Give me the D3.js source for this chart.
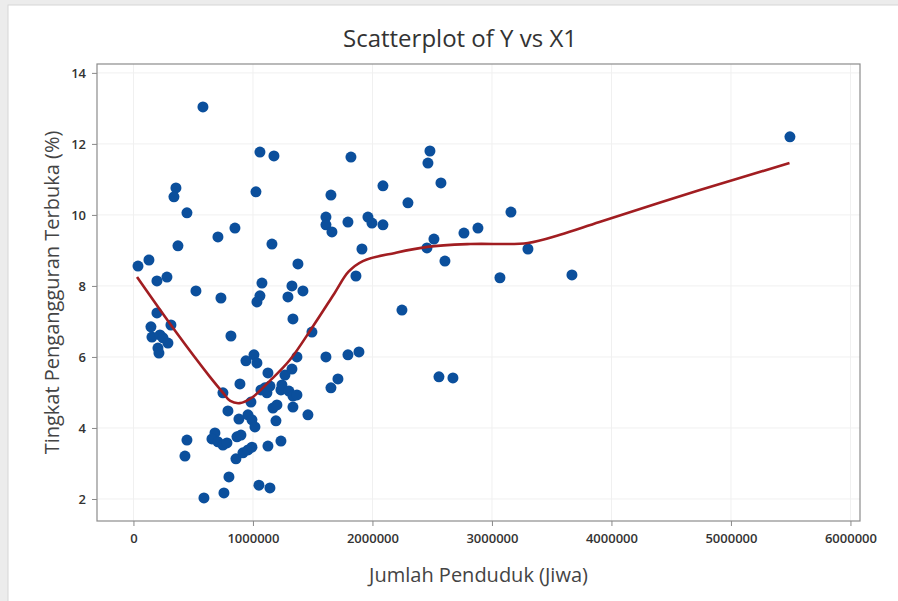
<!DOCTYPE html>
<html>
<head>
<meta charset="utf-8">
<script src="https://cdn.jsdelivr.net/npm/d3@7"></script>
<style>
  html,body{margin:0;padding:0;background:#fff;}
  text{font-family:"Open Sans","Noto Sans",sans-serif;}
</style>
</head>
<body>
<div id="chart"></div>
<script>
// population (X1) and open unemployment rate (Y)
const popX = [38000,129700,196650,280330,355640,338900,447700,372400,196650,146400,313800,154800,221800,246900,288700,205000,213400,523000,581600,707100,
  849400,732200,815900,447700,431000,590000,757300,799200,857700,682000,656900,707100,748900,782400,866100,899600,748900,790800,882800,891200,
  941400,1008400,1033500,958200,991600,1016700,983300,916300,958200,991600,1050200,1142300,1125500,1234300,1025100,1058600,1175700,1159000,1075300,1058600,
  1033500,1066900,1100400,1117100,1142300,1125500,1167400,1200800,1192500,1234300,1242700,1267800,1326400,1368200,1301200,1334700,1368200,1334700,1460200,1326400,
  1292900,1418400,1376600,1334700,1493700,1610900,1795000,1887000,1711300,1652700,1652700,1820100,1610900,1610900,1661100,1795000,1962300,1995800,2087900,2087900,
  1912100,1861900,2481200,2464400,2573200,2297100,2246900,3159000,2882800,2765700,2514600,2456100,2606700,3066900,3301300,3669500,2556500,2673600,5493700];
const rateY = [8.56,8.73,8.14,8.25,10.76,10.51,10.06,9.13,7.24,6.85,6.90,6.56,6.62,6.54,6.39,6.25,6.11,7.86,13.04,9.38,
  9.63,7.66,6.59,3.66,3.21,2.03,2.17,2.62,3.13,3.86,3.69,3.61,3.52,3.58,3.75,3.80,4.99,4.48,4.25,5.24,
  5.89,6.06,5.83,4.37,4.23,4.03,4.73,3.30,3.38,3.46,2.39,2.31,3.49,3.63,10.65,11.77,11.66,9.18,8.08,7.72,
  7.55,5.07,5.13,4.99,5.18,5.55,4.56,4.65,4.20,5.07,5.21,5.49,5.66,6.00,5.04,4.90,4.93,4.59,4.37,8.00,
  7.69,7.86,8.62,7.07,6.70,6.00,6.06,6.14,5.38,5.13,10.56,11.63,9.94,9.72,9.52,9.80,9.94,9.77,9.72,10.82,
  9.04,8.28,11.80,11.46,10.90,10.34,7.32,10.08,9.63,9.49,9.32,9.07,8.70,8.23,9.04,8.31,5.44,5.41,12.20];

// lowess smoother
const fitX = [30000,350000,640000,750000,810000,890000,990000,1140000,1310000,1500000,1680000,1800000,1920000,2190000,2460000,2820000,3300000,3570000,3900000,4740000,5490000];
const fitY = [8.25,6.73,5.44,4.99,4.76,4.70,4.85,5.32,5.92,6.85,7.78,8.40,8.70,8.93,9.10,9.18,9.21,9.44,9.80,10.70,11.46];

const xTicks = [0,1000000,2000000,3000000,4000000,5000000,6000000];
const yTicks = [2,4,6,8,10,12,14];

const W = 898, H = 601;
const M = {left:97, top:64, right:860, bottom:521};

const svg = d3.select("#chart").append("svg")
    .attr("width",W).attr("height",H);

// window frame
svg.append("rect").attr("width",W).attr("height",H).attr("fill","#ececec");
svg.append("rect").attr("x",8).attr("y",5).attr("width",W).attr("height",H)
    .attr("fill","#fff").attr("stroke","#d6d6d6");

const x = d3.scaleLinear().domain([-305000,6080000]).range([M.left,M.right]);
const y = d3.scaleLinear().domain([1.38,14.25]).range([M.bottom,M.top]);

// grid
const grid = svg.append("g").attr("stroke","#f0f0f0").attr("stroke-width",1);
grid.selectAll("line.gx").data(xTicks).join("line")
    .attr("x1",d=>x(d)).attr("x2",d=>x(d))
    .attr("y1",M.top).attr("y2",M.bottom);
grid.selectAll("line.gy").data(yTicks).join("line")
    .attr("x1",M.left).attr("x2",M.right)
    .attr("y1",d=>y(d)).attr("y2",d=>y(d));

// axes
const xAxis = svg.append("g").attr("transform",`translate(0,${M.bottom})`)
    .call(d3.axisBottom(x).tickValues(xTicks).tickFormat(d3.format("d")).tickSize(5).tickPadding(8));
const yAxis = svg.append("g").attr("transform",`translate(${M.left},0)`)
    .call(d3.axisLeft(y).tickValues(yTicks).tickSize(5).tickPadding(6));
[xAxis,yAxis].forEach(a=>{
  a.select(".domain").remove();
  a.selectAll(".tick line").attr("stroke","#888");
  a.selectAll(".tick text").attr("fill","#333").style("font-size","13px")
    .style("font-family","'Open Sans',sans-serif").style("font-weight","600");
});

// plot frame
svg.append("rect").attr("x",M.left).attr("y",M.top)
    .attr("width",M.right-M.left).attr("height",M.bottom-M.top)
    .attr("fill","none").attr("stroke","#8c8c8c").attr("stroke-width",1.2);

// points
svg.append("g").selectAll("circle")
    .data(popX.map((v,i)=>[v,rateY[i]]))
    .join("circle")
    .attr("cx",d=>x(d[0])).attr("cy",d=>y(d[1]))
    .attr("r",5.5)
    .attr("fill","#0b4f9c");

// fit line
const line = d3.line().x(d=>x(d[0])).y(d=>y(d[1])).curve(d3.curveCatmullRom.alpha(0.5));
svg.append("path")
    .datum(fitX.map((v,i)=>[v,fitY[i]]))
    .attr("fill","none")
    .attr("stroke","#a11d21")
    .attr("stroke-width",2.6)
    .attr("d",line);

// titles
svg.append("text").attr("x",460).attr("y",47)
    .attr("text-anchor","middle").attr("fill","#333")
    .style("font-size","24px").text("Scatterplot of Y vs X1");
svg.append("text").attr("x",(M.left+M.right)/2).attr("y",582)
    .attr("text-anchor","middle").attr("fill","#444")
    .style("font-size","20px").text("Jumlah Penduduk (Jiwa)");
svg.append("text")
    .attr("transform",`translate(59,${(M.top+M.bottom)/2}) rotate(-90)`)
    .attr("text-anchor","middle").attr("fill","#444")
    .style("font-size","20px").text("Tingkat Pengangguran Terbuka (%)");
</script>
</body>
</html>
